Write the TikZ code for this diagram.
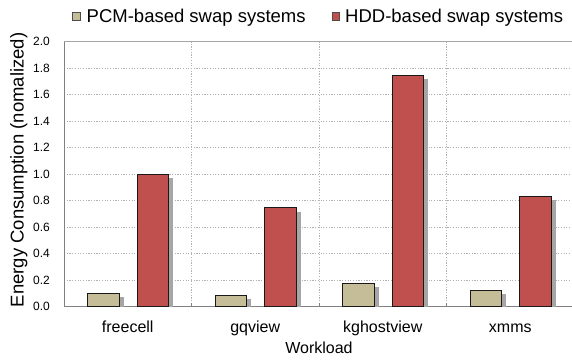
\documentclass[tikz,border=0pt]{standalone}
\usepackage{fontspec}
\setmainfont{Liberation Sans}
\definecolor{pcmtan}{HTML}{C4BD97}
\definecolor{hddred}{HTML}{C0504D}

\begin{document}
\begin{tikzpicture}[x=1pt,y=-1pt,
	gridline/.style={black!30,line width=0.6pt,dash pattern=on 1.2pt off 1.5pt},
	axisline/.style={black!50,line width=1pt},
	pcmbar/.style={fill=pcmtan,draw=black!90,line width=0.9pt},
	hddbar/.style={fill=hddred,draw=black!90,line width=0.9pt},
	barshadow/.style={fill=black!35},
	ticklabel/.style={font=\fontsize{12}{12}\selectfont,inner sep=0pt,anchor=east},
	catlabel/.style={font=\fontsize{16}{16}\selectfont,inner sep=0pt,anchor=base},
	bigtext/.style={font=\fontsize{18.5}{18.5}\selectfont,inner sep=0pt}]
	\useasboundingbox (0,0) rectangle (572,360);
	% legend
	\draw[fill=pcmtan,draw=black!70,line width=0.6pt] (72.5,12.5) rectangle (80,20);
	\node[bigtext,anchor=base west] (pcmleg) at (86.5,22.7) {PCM-based swap systems};
	\draw[fill=hddred,draw=black!70,line width=0.6pt] (332,12.5) rectangle (339.5,20);
	\node[bigtext,anchor=base west] (hddleg) at (345,22.7) {HDD-based swap systems};
	% axis titles
	\node[bigtext,anchor=base,rotate=90] (ylab) at (23.5,170) {Energy Consumption (nomalized)};
	\node[catlabel] (xlab) at (319,353.3) {Workload};
	\begin{scope}[shift={(64,306.7)},y=132.5pt]
		\foreach \v in {2,4,...,18}
			\draw[gridline] (0,\v/10) -- (510,\v/10);
		\draw[black!35,line width=0.8pt] (0,2) -- (510,2);
		\foreach \i in {1,2,3} {
			\draw[gridline] (\i*127.5,0) -- (\i*127.5,2);
			\draw[axisline] (\i*127.5,0) -- (\i*127.5,0.03);
		}
		\draw[axisline] (0,2) -- (0,0) -- (510,0);
		\foreach \t [count=\k] in {0.0,0.2,0.4,0.6,0.8,1.0,1.2,1.4,1.6,1.8,2.0}
			\node[ticklabel] (tick\k) at (-14,\t) {\t};
		% bars
		\foreach \name/\p/\h [count=\k from 0] in {freecell/0.1/1.0,gqview/0.085/0.747,kghostview/0.177/1.749,xmms/0.124/0.835} {
			\fill[barshadow] (\k*127.5+55,\p-0.03) rectangle (\k*127.5+59.5,0);
			\fill[barshadow] (\k*127.5+104.6,\h-0.03) rectangle (\k*127.5+109.1,0);
			\draw[pcmbar] (\k*127.5+23.7,0) rectangle (\k*127.5+55,\p);
			\draw[hddbar] (\k*127.5+73.3,0) rectangle (\k*127.5+104.6,\h);
			\node[catlabel] (\name) at (\k*127.5+63.75,-0.191) {\name};
		}
	\end{scope}
\end{tikzpicture}
\end{document}
